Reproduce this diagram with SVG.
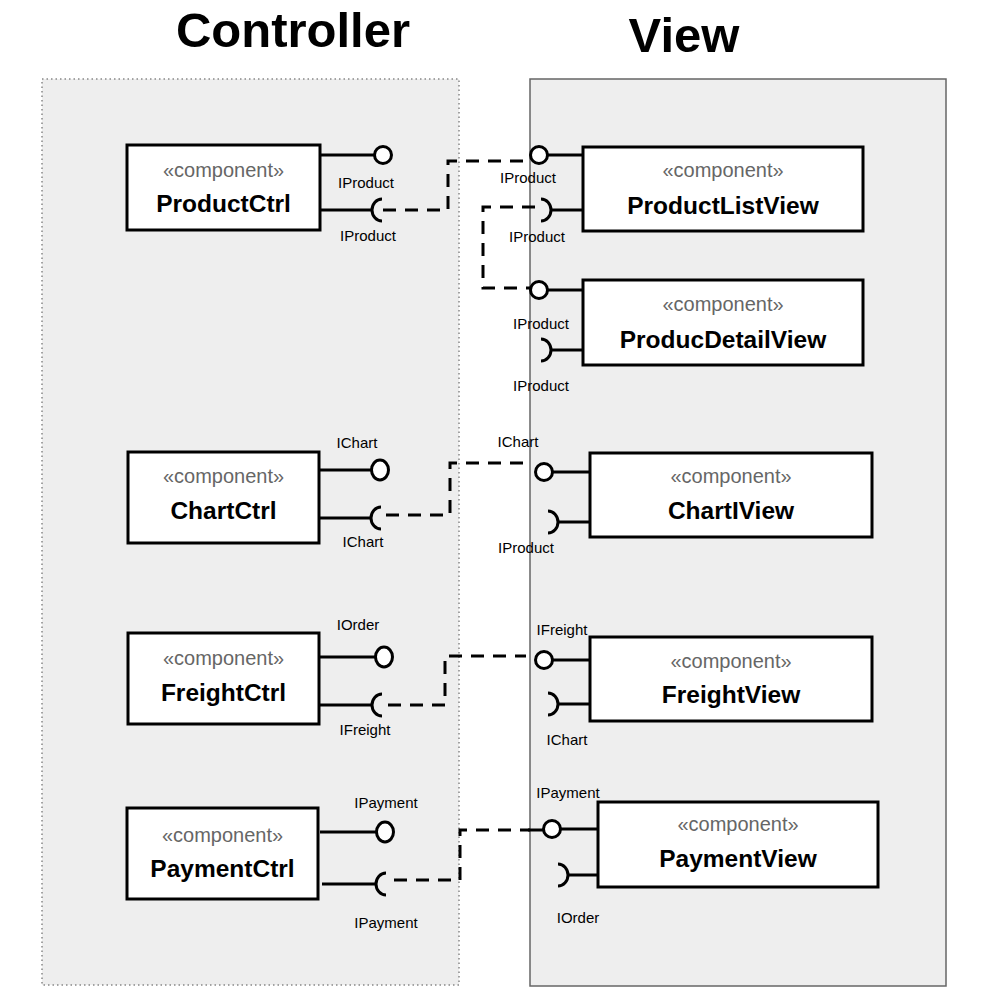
<svg xmlns="http://www.w3.org/2000/svg" width="984" height="1002" viewBox="0 0 984 1002">
<style>
text{font-family:"Liberation Sans",Arial,Helvetica,sans-serif;text-anchor:middle}
.title{font-size:49px;font-weight:bold;fill:#000}
.st{font-size:20px;fill:#666}
.nm{font-size:24.5px;font-weight:bold;fill:#000}
.lb{font-size:15px;fill:#000}
.box{fill:#fff;stroke:#000;stroke-width:3}
.ln{stroke:#000;stroke-width:3;fill:none}
.ball{fill:#fff;stroke:#000;stroke-width:3}
.dash{stroke:#000;stroke-width:3;fill:none;stroke-dasharray:13 9}
</style>
<rect width="984" height="1002" fill="#fff"/>
<g id="titles">
<text class="title" x="293" y="47">Controller</text>
<text class="title" x="684" y="52">View</text>
</g>
<g id="controller-container">
<rect x="42" y="79" width="417" height="906" fill="#eeeeee" stroke="#888" stroke-width="1.5" stroke-dasharray="1.5 3"/>
</g>
<g id="view-container">
<rect x="530" y="79" width="416" height="907" fill="#eeeeee" stroke="#666" stroke-width="1.5"/>
</g>
<g id="connectors">
<path class="dash" d="M383 210 H448 V161 H531"/>
<path class="dash" d="M535 207 H483 V288 H531"/>
<path class="dash" d="M386 515 H450 V463 H531"/>
<path class="dash" d="M388 705 H445 V656 H526"/>
<path class="dash" d="M394 880 H460 V830 H530"/>
<path class="ln" d="M528 830 H544"/>
</g>
<g id="ProductCtrl">
<rect class="box" x="127" y="145" width="193" height="85"/>
<text class="st" x="223.5" y="177">«component»</text>
<text class="nm" x="223.5" y="212">ProductCtrl</text>
<path class="ln" d="M320 155 H374.5"/>
<circle class="ball" cx="383" cy="155" r="8.5"/>
<text class="lb" x="366" y="188">IProduct</text>
<path class="ln" d="M320 210 H372"/>
<path class="ln" d="M382 199 A10 11 0 0 0 382 221"/>
<text class="lb" x="368" y="241">IProduct</text>
</g>
<g id="ProductListView">
<rect class="box" x="583" y="147" width="280" height="84"/>
<text class="st" x="723" y="177">«component»</text>
<text class="nm" x="723" y="214">ProductListView</text>
<path class="ln" d="M547.5 155 H583"/>
<circle class="ball" cx="539" cy="155" r="8.5"/>
<text class="lb" x="528" y="183">IProduct</text>
<path class="ln" d="M551 210 H583"/>
<path class="ln" d="M541 199 A10 11 0 0 1 541 221"/>
<text class="lb" x="537" y="242">IProduct</text>
</g>
<g id="ProducDetailView">
<rect class="box" x="583" y="280" width="280" height="85"/>
<text class="st" x="723" y="311">«component»</text>
<text class="nm" x="723" y="348">ProducDetailView</text>
<path class="ln" d="M547.5 290 H583"/>
<circle class="ball" cx="539" cy="290" r="8.5"/>
<text class="lb" x="541" y="329">IProduct</text>
<path class="ln" d="M551 350 H583"/>
<path class="ln" d="M541 339 A10 11 0 0 1 541 361"/>
<text class="lb" x="541" y="391">IProduct</text>
</g>
<g id="ChartCtrl">
<rect class="box" x="128" y="452" width="191" height="91"/>
<text class="st" x="223.5" y="483">«component»</text>
<text class="nm" x="223.5" y="519">ChartCtrl</text>
<path class="ln" d="M319 470 H371.5"/>
<ellipse class="ball" cx="380" cy="470" rx="8.5" ry="10"/>
<text class="lb" x="357" y="448">IChart</text>
<path class="ln" d="M319 518 H371"/>
<path class="ln" d="M381 507 A10 11 0 0 0 381 529"/>
<text class="lb" x="363" y="547">IChart</text>
</g>
<g id="ChartIView">
<rect class="box" x="590" y="453" width="282" height="84"/>
<text class="st" x="731" y="483">«component»</text>
<text class="nm" x="731" y="519">ChartIView</text>
<path class="ln" d="M552.5 472 H590"/>
<circle class="ball" cx="544" cy="472" r="8.5"/>
<text class="lb" x="518" y="447">IChart</text>
<path class="ln" d="M558 522 H590"/>
<path class="ln" d="M548 511 A10 11 0 0 1 548 533"/>
<text class="lb" x="526" y="553">IProduct</text>
</g>
<g id="FreightCtrl">
<rect class="box" x="128" y="633" width="191" height="91"/>
<text class="st" x="223.5" y="665">«component»</text>
<text class="nm" x="223.5" y="701">FreightCtrl</text>
<path class="ln" d="M319 657 H375.5"/>
<ellipse class="ball" cx="384" cy="657" rx="8.5" ry="10"/>
<text class="lb" x="358" y="630">IOrder</text>
<path class="ln" d="M319 705 H372"/>
<path class="ln" d="M382 694 A10 11 0 0 0 382 716"/>
<text class="lb" x="365" y="735">IFreight</text>
</g>
<g id="FreightView">
<rect class="box" x="590" y="637" width="282" height="84"/>
<text class="st" x="731" y="668">«component»</text>
<text class="nm" x="731" y="703">FreightView</text>
<path class="ln" d="M552.5 660 H590"/>
<circle class="ball" cx="544" cy="660" r="8.5"/>
<text class="lb" x="562" y="635">IFreight</text>
<path class="ln" d="M558 704 H590"/>
<path class="ln" d="M548 693 A10 11 0 0 1 548 715"/>
<text class="lb" x="567" y="745">IChart</text>
</g>
<g id="PaymentCtrl">
<rect class="box" x="127" y="808" width="191" height="91"/>
<text class="st" x="222.5" y="842">«component»</text>
<text class="nm" x="222.5" y="877">PaymentCtrl</text>
<path class="ln" d="M320 832 H376.5"/>
<ellipse class="ball" cx="385" cy="832" rx="8.5" ry="10"/>
<text class="lb" x="386" y="808">IPayment</text>
<path class="ln" d="M322 884 H376"/>
<path class="ln" d="M386 873 A10 11 0 0 0 386 895"/>
<text class="lb" x="386" y="928">IPayment</text>
</g>
<g id="PaymentView">
<rect class="box" x="598" y="802" width="280" height="85"/>
<text class="st" x="738" y="831">«component»</text>
<text class="nm" x="738" y="867">PaymentView</text>
<path class="ln" d="M560.5 829 H598"/>
<circle class="ball" cx="552" cy="829" r="8.5"/>
<text class="lb" x="568" y="798">IPayment</text>
<path class="ln" d="M568 875 H598"/>
<path class="ln" d="M558 864 A10 11 0 0 1 558 886"/>
<text class="lb" x="578" y="923">IOrder</text>
</g>
</svg>
